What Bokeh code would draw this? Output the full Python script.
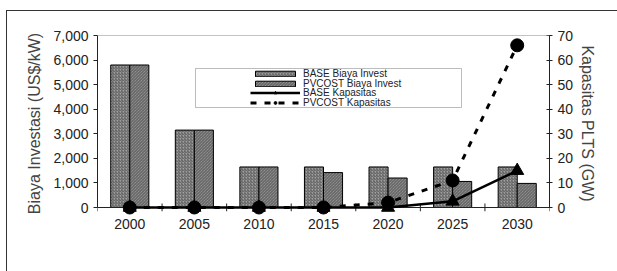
import numpy as np
from bokeh.plotting import figure
from bokeh.models import (Range1d, LinearAxis, FixedTicker, NumeralTickFormatter,
                          ColumnDataSource, Legend, LegendItem, BoxAnnotation, Span)
from bokeh.transform import dodge
from bokeh.embed import file_html
from bokeh.resources import INLINE

years = ["2000", "2005", "2010", "2015", "2020", "2025", "2030"]
base_invest = [5800, 3150, 1650, 1650, 1650, 1650, 1650]
pvcost_invest = [5800, 3150, 1650, 1420, 1200, 1060, 980]
base_cap = [0, 0, 0, 0, 0, 2.5, 15]
pvcost_cap = [0, 0, 0, 0, 2, 11, 66]
invest_ticks = [0, 1000, 2000, 3000, 4000, 5000, 6000, 7000]
cap_ticks = [0, 10, 20, 30, 40, 50, 60, 70]
legend_labels = ["BASE Biaya Invest", "PVCOST Biaya Invest", "BASE Kapasitas", "PVCOST Kapasitas"]

idx = list(range(len(years)))
bounds_x = [i - 0.5 for i in range(len(years) + 1)]
src = ColumnDataSource(dict(x=idx, base_invest=base_invest, pvcost_invest=pvcost_invest,
                            base_cap=base_cap, pvcost_cap=pvcost_cap))

FONT = "Liberation Sans"
INV_MAX, CAP_MAX = invest_ticks[-1], cap_ticks[-1]
FRAME_H = 172            # pixels from 0 to the top value
PAD = 4 / FRAME_H        # a little room below zero
TICK = 4 / FRAME_H * INV_MAX

p = figure(width=617, height=271, output_backend="svg", toolbar_location=None,
           x_range=Range1d(-0.5, len(years) - 0.5),
           y_range=Range1d(-PAD * INV_MAX, INV_MAX),
           min_border_left=97, min_border_right=68, min_border_top=35, min_border_bottom=60)
p.grid.visible = False
p.outline_line_color = None
p.background_fill_color = "white"
p.border_fill_alpha = 0
# outer frame: top and left edges
p.styles = {
    "background": ("linear-gradient(#333,#333) 6px 10px / 100% 1px no-repeat, "
                   "linear-gradient(#333,#333) 6px 10px / 1px 100% no-repeat, white"),
}

p.extra_y_ranges = {"cap": Range1d(-PAD * CAP_MAX, CAP_MAX)}

# plot-area top line and the category axis line at zero
p.add_layout(Span(location=INV_MAX, dimension="width", line_color="#888", line_width=1))
p.add_layout(Span(location=0, dimension="width", line_color="#222", line_width=1))
# category boundary tick marks crossing the zero line
p.segment(x0=bounds_x, x1=bounds_x, y0=[-TICK] * len(bounds_x), y1=[TICK] * len(bounds_x),
          line_color="#222", line_width=1)

# bars
bar_kw = dict(width=0.295, line_color="black", line_width=1, fill_color="#a0a0a0",
              hatch_color="#5a5a5a", hatch_scale=3, hatch_weight=1)
b1 = p.vbar(x=dodge("x", -0.1475), top="base_invest", source=src,
            hatch_pattern="right_diagonal_line", **bar_kw)
b2 = p.vbar(x=dodge("x", 0.1475), top="pvcost_invest", source=src,
            hatch_pattern="left_diagonal_line", **bar_kw)

# capacity lines
l1 = p.line("x", "base_cap", source=src, y_range_name="cap", line_color="black",
            line_width=2.5, level="overlay")
m1 = p.scatter("x", "base_cap", source=src, y_range_name="cap", marker="triangle",
               size=13, fill_color="black", line_color="black", level="overlay")
l2 = p.line("x", "pvcost_cap", source=src, y_range_name="cap", line_color="black",
            line_width=3, line_dash="6 8", level="overlay")
m2 = p.scatter("x", "pvcost_cap", source=src, y_range_name="cap", marker="circle",
               size=13, fill_color="black", line_color="black", level="overlay")

# axes
xa = p.xaxis[0]
xa.ticker = FixedTicker(ticks=idx)
xa.major_label_overrides = {i: y for i, y in zip(idx, years)}
xa.axis_line_color = None
xa.major_tick_line_color = None
xa.minor_tick_line_color = None
xa.major_label_standoff = 1

ya = p.yaxis[0]
ya.bounds = (0, INV_MAX)
ya.ticker = FixedTicker(ticks=invest_ticks)
ya.formatter = NumeralTickFormatter(format="0,0")
ya.axis_label = "Biaya Investasi (US$/kW)"
ya.major_tick_in = 0
ya.major_tick_out = 4
ya.minor_tick_line_color = None
ya.major_label_standoff = 5
ya.axis_label_standoff = 7
ya.axis_line_color = "#222"
ya.major_tick_line_color = "#222"

ra = LinearAxis(y_range_name="cap", ticker=FixedTicker(ticks=cap_ticks),
                axis_label="Kapasitas PLTS (GW)", bounds=(0, CAP_MAX))
ra.major_tick_in = 3
ra.major_tick_out = 3
ra.minor_tick_line_color = None
ra.major_label_standoff = 5
ra.axis_label_standoff = 3
ra.axis_line_color = "#222"
ra.major_tick_line_color = "#222"
p.add_layout(ra, "right")

for ax in [xa, ya, ra]:
    ax.major_label_text_font = FONT
    ax.major_label_text_font_size = "14px"
    ax.major_label_text_color = "#222"
    ax.axis_label_text_font = FONT
    ax.axis_label_text_font_size = "16px"
    ax.axis_label_text_font_style = "normal"
    ax.axis_label_text_color = "#444"

# legend frame (screen units measured from the frame's bottom-left)
FB = 211 - 35  # frame bottom distance helper (frame height in px)
box = BoxAnnotation(left=98, right=364, top=143, bottom=104,
                    left_units="screen", right_units="screen",
                    top_units="screen", bottom_units="screen",
                    fill_color="white", fill_alpha=1, line_color="#222", line_width=1,
                    level="annotation")
p.add_layout(box)

# one legend per row so the rows can sit as tightly as in the original
row_renderers = [[b1], [b2], [l1, m1], [l2, m2]]
row_y = [132, 122.3, 112.6, 102.9]
for lab, rends, yy in zip(legend_labels, row_renderers, row_y):
    lg = Legend(items=[LegendItem(label=lab, renderers=rends)], location=(153, yy))
    lg.margin = 0
    lg.padding = 0
    lg.spacing = 0
    lg.glyph_width = 50
    lg.glyph_height = 7
    lg.label_height = 9
    lg.label_standoff = 3
    lg.label_text_font = FONT
    lg.label_text_font_size = "10px"
    lg.label_text_color = "#222"
    lg.border_line_color = None
    lg.background_fill_alpha = 0
    p.add_layout(lg, "center")

open("out.html", "w").write(file_html(p, INLINE))
